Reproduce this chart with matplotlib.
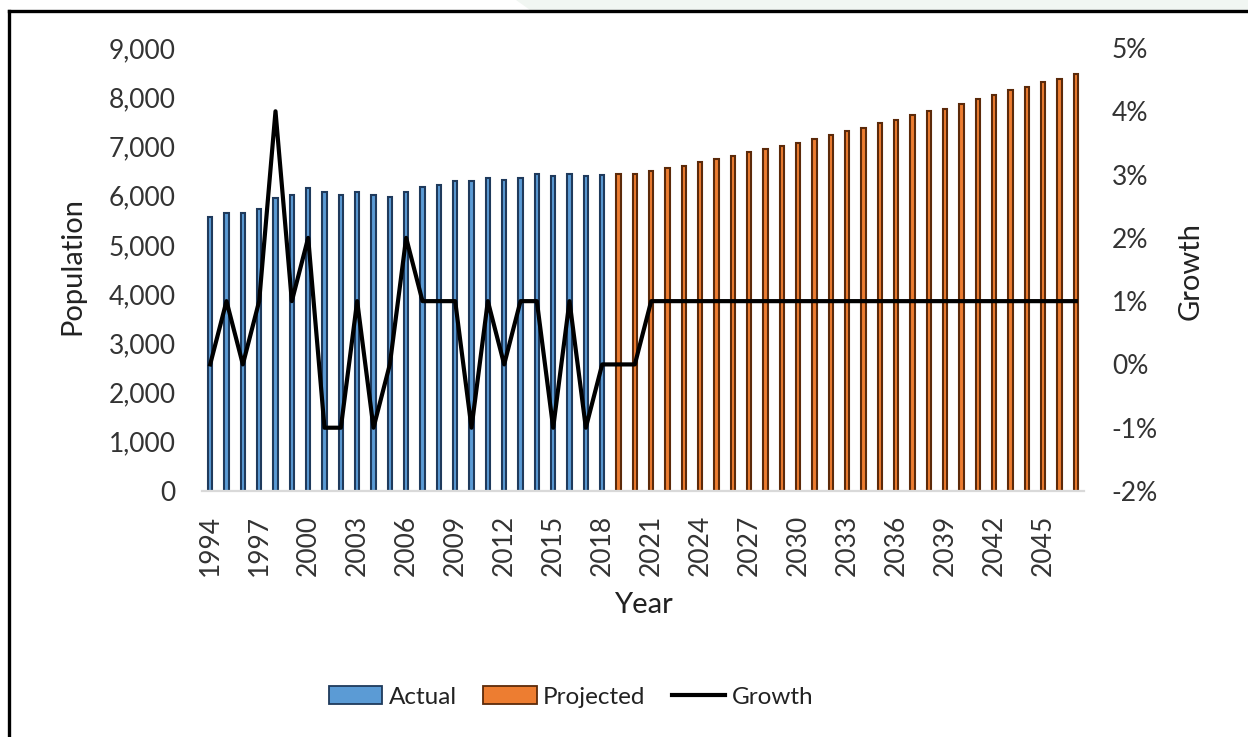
import matplotlib
matplotlib.use("Agg")
import matplotlib.pyplot as plt
from matplotlib.patches import Patch, Polygon
from matplotlib.lines import Line2D
from matplotlib.ticker import FuncFormatter

plt.rcParams['font.family'] = ['Lato', 'DejaVu Sans']

# --- data ---
actual_years = list(range(1994, 2019))
actual_pop = [5560, 5650, 5650, 5720, 5950, 6010, 6150, 6080, 6010, 6080,
              6010, 5980, 6080, 6180, 6220, 6300, 6290, 6350, 6320, 6350,
              6440, 6400, 6440, 6400, 6420]

proj_years = list(range(2019, 2048))
proj_pop = [6440, 6440, 6510, 6560, 6610, 6680, 6750, 6810, 6880, 6950,
            7010, 7080, 7150, 7240, 7320, 7370, 7470, 7540, 7640, 7710,
            7770, 7870, 7970, 8040, 8140, 8210, 8310, 8370, 8470]

growth_years = list(range(1994, 2048))
growth_pct = [0, 1, 0, 1, 4, 1, 2, -1, -1, 1,
              -1, 0, 2, 1, 1, 1, -1, 1, 0, 1,
              1, -1, 1, -1, 0, 0, 0, 1, 1, 1,
              1, 1, 1, 1, 1, 1, 1, 1, 1, 1,
              1, 1, 1, 1, 1, 1, 1, 1, 1, 1,
              1, 1, 1, 1]

year_ticks = list(range(1994, 2046, 3))

blue, blue_edge = '#5B9BD5', '#1F3A5C'
orange, orange_edge = '#ED7D31', '#5C2A0A'
tick_col = '#333333'
label_col = '#222222'

W, H = 1248, 737
fig = plt.figure(figsize=(W / 100, H / 100), dpi=100)

# faint page decoration above the frame
fig.add_artist(Polygon([(516 / W, 1), (530 / W, 1 - 10 / H), (1, 1 - 10 / H), (1, 1)],
                       closed=True, transform=fig.transFigure, color='#F1F6F2', lw=0))
# black frame (top and left edges visible)
fig.add_artist(Line2D([9 / W, 1], [1 - 11 / H, 1 - 11 / H], transform=fig.transFigure,
                      color='black', lw=2.4))
fig.add_artist(Line2D([9 / W, 9 / W], [0, 1 - 11 / H], transform=fig.transFigure,
                      color='black', lw=2.4))

ax = fig.add_axes([202 / W, 1 - 491 / H, 882 / W, 443 / H])
ax.bar(actual_years, actual_pop, width=0.28, color=blue, edgecolor=blue_edge,
       linewidth=1.5, zorder=2)
ax.bar(proj_years, proj_pop, width=0.28, color=orange, edgecolor=orange_edge,
       linewidth=1.5, zorder=2)
ax.set_xlim(1993.5, 2047.5)
ax.set_ylim(0, 9000)
ax.set_yticks(range(0, 9001, 1000))
ax.yaxis.set_major_formatter(FuncFormatter(lambda v, p: f"{v:,.0f}"))
ax.set_xticks(year_ticks)
ax.set_xticklabels([str(y) for y in year_ticks], rotation=90)
ax.tick_params(axis='y', length=0, pad=19, labelsize=19, labelcolor=tick_col)
ax.tick_params(axis='x', length=0, pad=17, labelsize=19, labelcolor=tick_col)
for s in ['left', 'right', 'top']:
    ax.spines[s].set_visible(False)
ax.spines['bottom'].set_color('#D9D9D9')
ax.spines['bottom'].set_linewidth(1.6)

ax.set_ylabel('Population', fontsize=21, color=label_col)
ax.yaxis.set_label_coords(-0.132, 0.508)
ax.set_xlabel('Year', fontsize=21, color=label_col)
ax.xaxis.set_label_coords(0.5, -0.228)

ax2 = ax.twinx()
ax2.plot(growth_years, growth_pct, color='black', lw=3, zorder=3)
ax2.set_ylim(-2, 5)
ax2.set_yticks(range(-2, 6))
ax2.yaxis.set_major_formatter(FuncFormatter(lambda v, p: f"{v:.0f}%"))
ax2.tick_params(axis='y', length=0, pad=20, labelsize=19, labelcolor=tick_col)
for s in ['left', 'right', 'top', 'bottom']:
    ax2.spines[s].set_visible(False)
ax2.set_ylabel('Growth', fontsize=21, color=label_col)
ax2.yaxis.set_label_coords(1.1066, 0.497)

handles = [
    Patch(facecolor=blue, edgecolor=blue_edge, linewidth=1.3, label='Actual'),
    Patch(facecolor=orange, edgecolor=orange_edge, linewidth=1.3, label='Projected'),
    Line2D([0], [0], color='black', lw=3, label='Growth'),
]
fig.legend(handles=handles, loc='center', bbox_to_anchor=(571 / W, 1 - 697 / H),
           ncol=3, frameon=False, fontsize=17.5, handlelength=2.2, handleheight=0.76,
           handletextpad=0.25, columnspacing=1.1, labelcolor=label_col)

fig.savefig('out.png', dpi=100)
